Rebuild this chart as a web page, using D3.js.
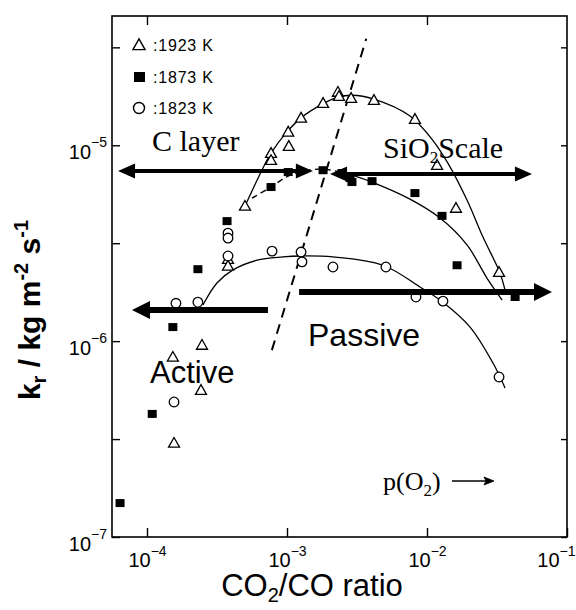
<!DOCTYPE html>
<html><head><meta charset="utf-8">
<script src="https://cdn.jsdelivr.net/npm/d3@7"></script>
<style>body{margin:0;background:#fff}</style>
</head><body><svg id="c" width="576" height="610"></svg>
<script>
// ---------- data ----------
const tri1923X = [1.56e-4, 1.53e-4, 2.43e-4, 2.47e-4, 3.79e-4, 3.79e-4, 5.01e-4, 7.69e-4, 7.69e-4, 1.03e-3, 1.02e-3, 1.26e-3, 1.81e-3, 2.31e-3, 2.35e-3, 2.87e-3, 4.18e-3, 8.2e-3, 1.18e-2, 1.61e-2, 3.27e-2];
const tri1923Y = [3.02e-7, 8.3e-7, 5.62e-7, 9.55e-7, 2.62e-6, 2.42e-6, 4.90e-6, 9.12e-6, 8.39e-6, 9.9e-6, 1.17e-5, 1.38e-5, 1.64e-5, 1.87e-5, 1.78e-5, 1.74e-5, 1.70e-5, 1.36e-5, 7.92e-6, 4.78e-6, 2.25e-6];

const sq1873X = [6.42e-5, 1.09e-4, 1.53e-4, 2.31e-4, 3.73e-4, 7.69e-4, 1.02e-3, 1.81e-3, 2.47e-3, 2.82e-3, 2.91e-3, 4.05e-3, 8.2e-3, 1.28e-2, 1.64e-2, 4.26e-2];
const sq1873Y = [1.49e-7, 4.25e-7, 1.18e-6, 2.33e-6, 4.10e-6, 6.12e-6, 7.3e-6, 7.46e-6, 7.21e-6, 6.8e-6, 6.49e-6, 6.56e-6, 5.70e-6, 4.36e-6, 2.44e-6, 1.68e-6];

const circ1823X = [1.56e-4, 1.61e-4, 2.31e-4, 3.79e-4, 3.79e-4, 3.79e-4, 7.82e-4, 1.26e-3, 1.28e-3, 2.13e-3, 5.09e-3, 8.34e-3, 1.30e-2, 3.27e-2];
const circ1823Y = [4.89e-7, 1.56e-6, 1.58e-6, 3.56e-6, 3.36e-6, 2.72e-6, 2.88e-6, 2.85e-6, 2.54e-6, 2.39e-6, 2.39e-6, 1.68e-6, 1.60e-6, 6.56e-7];

const fit1923X = [5.01e-4, 6.62e-4, 7.69e-4, 1.0e-3, 1.26e-3, 1.84e-3, 2.31e-3, 2.91e-3, 4.18e-3, 7.56e-3, 1.10e-2, 1.41e-2, 1.93e-2, 2.51e-2, 3.32e-2, 3.61e-2];
const fit1923Y = [4.90e-6, 7.46e-6, 9.12e-6, 1.17e-5, 1.38e-5, 1.64e-5, 1.76e-5, 1.80e-5, 1.72e-5, 1.41e-5, 1.06e-5, 8.1e-6, 5.25e-6, 3.40e-6, 2.23e-6, 1.82e-6];

const fit1873DashX = [5.62e-4, 7.69e-4, 1.02e-3, 1.46e-3, 1.81e-3, 2.39e-3];
const fit1873DashY = [5.37e-6, 6.12e-6, 6.96e-6, 7.46e-6, 7.56e-6, 7.30e-6];
const fit1873X = [2.39e-3, 3.06e-3, 4.05e-3, 7.56e-3, 1.24e-2, 1.93e-2, 2.68e-2, 3.44e-2];
const fit1873Y = [7.30e-6, 6.96e-6, 6.49e-6, 5.31e-6, 4.25e-6, 3.10e-6, 2.10e-6, 1.62e-6];

const fit1823X = [2.51e-4, 3.16e-4, 4.11e-4, 6.11e-4, 9.36e-4, 1.24e-3, 2.13e-3, 4.85e-3, 8.91e-3, 1.30e-2, 2.03e-2, 2.96e-2, 3.61e-2];
const fit1823Y = [1.53e-6, 1.98e-6, 2.31e-6, 2.59e-6, 2.69e-6, 2.72e-6, 2.69e-6, 2.44e-6, 1.89e-6, 1.58e-6, 1.18e-6, 7.73e-7, 5.77e-7];

const boundaryX = [7.8e-4, 3.68e-3];
const boundaryY = [9.0e-7, 3.5e-5];

// annotation arrows: [x0, x1, y, headStart, headEnd]
const arrowCLayer  = [6.21e-5, 1.53e-3, 7.38e-6, true, true];
const arrowSiO2    = [2.03e-3, 5.62e-2, 7.13e-6, true, true];
const arrowActive  = [7.31e-4, 7.81e-5, 1.44e-6, false, true];
const arrowPassive = [1.22e-3, 7.81e-2, 1.78e-6, false, true];

const xTickValues = [1e-4, 1e-3, 1e-2, 1e-1];
const xTickExp = ["−4", "−3", "−2", "−1"];
const yTickValues = [1e-7, 1e-6, 1e-5];
const yTickExp = ["−7", "−6", "−5"];
const yMinorTicks = [Math.pow(10, -6.5), Math.pow(10, -5.5), Math.pow(10, -4.5)];

const legendLabels = [":1923 K", ":1873 K", ":1823 K"];

// ---------- layout ----------
const svg = d3.select("#c");
svg.append("rect").attr("width", 576).attr("height", 610).attr("fill", "#fff");
const L = 112, R = 567, T = 16, B = 537;
const x = d3.scaleLog().domain([Math.pow(10, -4.25), 1e-1]).range([L, R]);
const y = d3.scaleLog().domain([1e-7, Math.pow(10, -4.34)]).range([B, T]);
const SANS = "'Liberation Sans', Arial, sans-serif";
const SERIF = "'Liberation Serif', 'Times New Roman', serif";

// frame
svg.append("rect").attr("x", L).attr("y", T).attr("width", R - L).attr("height", B - T)
  .attr("fill", "none").attr("stroke", "#000").attr("stroke-width", 1.6);

// axes (inward ticks)
function styleAxis(g) { g.select(".domain").remove(); g.selectAll("line").attr("stroke", "#000").attr("stroke-width", 1.4); }
svg.append("g").attr("transform", `translate(0,${B})`)
  .call(d3.axisBottom(x).tickValues(xTickValues).tickSizeInner(-9).tickSizeOuter(0).tickFormat(() => ""))
  .call(styleAxis)
  .selectAll(".tick").each(function (d, i) {
    const last = i === xTickValues.length - 1;
    const t = d3.select(this).append("text").attr("y", 30).attr("x", last ? 575 - x(d) : 0)
      .attr("text-anchor", last ? "end" : "middle")
      .attr("fill", "#000").style("font-family", SANS).style("font-size", "20px");
    t.append("tspan").text("10");
    t.append("tspan").attr("dy", -11).style("font-size", "14px").text(xTickExp[i]);
  });
svg.append("g").attr("transform", `translate(0,${T})`)
  .call(d3.axisTop(x).tickValues(xTickValues.slice(0, 3)).tickSizeInner(-9).tickSizeOuter(0).tickFormat(() => ""))
  .call(styleAxis);
svg.append("g").attr("transform", `translate(${L},0)`)
  .call(d3.axisLeft(y).tickValues(yTickValues.concat(yMinorTicks)).tickSizeInner(-8).tickSizeOuter(0).tickFormat(() => ""))
  .call(styleAxis);
svg.append("g").attr("transform", `translate(${R},0)`)
  .call(d3.axisRight(y).tickValues(yTickValues.concat(yMinorTicks)).tickSizeInner(-6).tickSizeOuter(0).tickFormat(() => ""))
  .call(styleAxis);
yTickValues.forEach((v, i) => {
  const t = svg.append("text").attr("x", 107).attr("y", y(v) + 14).attr("text-anchor", "end")
    .style("font-family", SANS).style("font-size", "20px");
  t.append("tspan").text("10");
  t.append("tspan").attr("dy", -12).style("font-size", "14px").text(yTickExp[i]);
});

// axis titles
const xt = svg.append("text").attr("x", 312).attr("y", 596).attr("text-anchor", "middle")
  .style("font-family", SANS).style("font-size", "31px");
xt.append("tspan").text("CO");
xt.append("tspan").attr("dy", 6).style("font-size", "20px").text("2");
xt.append("tspan").attr("dy", -6).text("/CO ratio");

const yt = svg.append("text").attr("transform", "translate(40,310) rotate(-90)").attr("text-anchor", "middle")
  .style("font-family", SANS).style("font-size", "30px").style("font-weight", "bold");
yt.append("tspan").text("k");
yt.append("tspan").attr("dy", 6).style("font-size", "20px").text("r");
yt.append("tspan").attr("dy", -6).text(" / kg m");
yt.append("tspan").attr("dy", -12).style("font-size", "20px").text("-2");
yt.append("tspan").attr("dy", 12).text(" s");
yt.append("tspan").attr("dy", -12).style("font-size", "20px").text("-1");

// fitted curves
const line = d3.line().x(d => x(d[0])).y(d => y(d[1])).curve(d3.curveCatmullRom.alpha(0.5));
const zip = (a, b) => a.map((v, i) => [v, b[i]]);
svg.append("path").attr("d", line(zip(fit1923X, fit1923Y))).attr("fill", "none").attr("stroke", "#000").attr("stroke-width", 1.3);
svg.append("path").attr("d", line(zip(fit1873DashX, fit1873DashY))).attr("fill", "none").attr("stroke", "#000").attr("stroke-width", 1.4).attr("stroke-dasharray", "6,4");
svg.append("path").attr("d", line(zip(fit1873X, fit1873Y))).attr("fill", "none").attr("stroke", "#000").attr("stroke-width", 1.3);
svg.append("path").attr("d", line(zip(fit1823X, fit1823Y))).attr("fill", "none").attr("stroke", "#000").attr("stroke-width", 1.3);
svg.append("path").attr("d", d3.line().x(d => x(d[0])).y(d => y(d[1]))(zip(boundaryX, boundaryY)))
  .attr("fill", "none").attr("stroke", "#000").attr("stroke-width", 2).attr("stroke-dasharray", "10,7");

// markers
const triPath = s => `M0,${-s * 0.55}L${s * 0.55},${s * 0.42}L${-s * 0.55},${s * 0.42}Z`;
svg.append("g").selectAll("path").data(zip(tri1923X, tri1923Y)).join("path")
  .attr("transform", d => `translate(${x(d[0])},${y(d[1])})`).attr("d", triPath(10))
  .attr("fill", "#fff").attr("stroke", "#000").attr("stroke-width", 1.3);
svg.append("g").selectAll("rect").data(zip(sq1873X, sq1873Y)).join("rect")
  .attr("x", d => x(d[0]) - 4.5).attr("y", d => y(d[1]) - 4).attr("width", 9).attr("height", 8).attr("fill", "#000");
svg.append("g").selectAll("circle").data(zip(circ1823X, circ1823Y)).join("circle")
  .attr("cx", d => x(d[0])).attr("cy", d => y(d[1])).attr("r", 4.8)
  .attr("fill", "#fff").attr("stroke", "#000").attr("stroke-width", 1.3);

// arrows
function arrow(a, width, hl, hw) {
  const x0 = x(a[0]), x1 = x(a[1]), yy = y(a[2]);
  const dir = Math.sign(x1 - x0);
  const sx0 = a[3] ? x0 + dir * hl * 0.8 : x0, sx1 = a[4] ? x1 - dir * hl * 0.8 : x1;
  svg.append("line").attr("x1", sx0).attr("x2", sx1).attr("y1", yy).attr("y2", yy).attr("stroke", "#000").attr("stroke-width", width);
  const head = (tx, d) => svg.append("path").attr("d", `M${tx},${yy}L${tx - d * hl},${yy - hw}L${tx - d * hl},${yy + hw}Z`).attr("fill", "#000");
  if (a[4]) head(x1, dir);
  if (a[3]) head(x0, -dir);
}
arrow(arrowCLayer, 4, 17, 7.5);
arrow(arrowSiO2, 4, 17, 7.5);
arrow(arrowActive, 6, 18, 9);
arrow(arrowPassive, 6, 18, 9);

// legend
const legY = [45, 77, 108];
svg.append("path").attr("transform", `translate(139,${legY[0]})`).attr("d", triPath(11)).attr("fill", "none").attr("stroke", "#000").attr("stroke-width", 1.4);
svg.append("rect").attr("x", 134).attr("y", legY[1] - 5).attr("width", 11).attr("height", 10).attr("fill", "#000");
svg.append("circle").attr("cx", 139).attr("cy", legY[2]).attr("r", 5.5).attr("fill", "none").attr("stroke", "#000").attr("stroke-width", 1.4);
legendLabels.forEach((s, i) => svg.append("text").attr("x", 153).attr("y", legY[i] + 6)
  .style("font-family", SANS).style("font-size", "16px").style("letter-spacing", "0.8px").text(s));

// region labels
svg.append("text").attr("x", 152).attr("y", 151).style("font-family", SERIF).style("font-size", "30px").text("C layer");
const si = svg.append("text").attr("x", 383).attr("y", 158).style("font-family", SERIF).style("font-size", "30px");
si.append("tspan").text("SiO");
si.append("tspan").attr("dy", 5).style("font-size", "17px").text("2");
si.append("tspan").attr("dy", -5).text("Scale");
svg.append("text").attr("x", 150).attr("y", 383).style("font-family", SANS).style("font-size", "31px").text("Active");
svg.append("text").attr("x", 308).attr("y", 346).style("font-family", SANS).style("font-size", "32px").text("Passive");
const po = svg.append("text").attr("x", 383).attr("y", 490).style("font-family", SERIF).style("font-size", "26px");
po.append("tspan").text("p(O");
po.append("tspan").attr("dy", 6).style("font-size", "17px").text("2");
po.append("tspan").attr("dy", -6).text(")");
// long thin arrow after p(O2)
svg.append("line").attr("x1", 452).attr("x2", 490).attr("y1", 481).attr("y2", 481).attr("stroke", "#000").attr("stroke-width", 1.3);
svg.append("path").attr("d", "M494,481L484,477L486,481L484,485Z").attr("fill", "#000").attr("stroke", "#000").attr("stroke-width", 0.8);
</script></body></html>
